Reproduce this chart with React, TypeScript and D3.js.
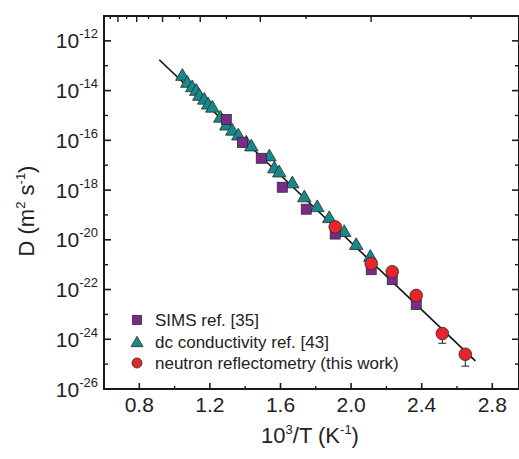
import React from "react";
import * as d3 from "d3";

// dc conductivity ref. [43]
const triX = [1.044, 1.072, 1.10, 1.123, 1.140, 1.168, 1.19, 1.214, 1.259, 1.293, 1.327, 1.361, 1.406, 1.435, 1.537, 1.565, 1.593, 1.667, 1.735, 1.808, 1.876, 1.961, 2.029, 2.109];
const triD = [4.0e-14, 2.1e-14, 1.4e-14, 1.0e-14, 6.3e-15, 4.4e-15, 2.8e-15, 2.1e-15, 8.3e-16, 4.0e-16, 2.5e-16, 1.6e-16, 8.3e-17, 5.8e-17, 2.3e-17, 7.6e-18, 5.2e-18, 1.9e-18, 5.2e-19, 2.1e-19, 7.6e-20, 2.1e-20, 6.3e-21, 2.1e-21];
// SIMS ref. [35]
const sqX = [1.293, 1.384, 1.491, 1.610, 1.746, 1.910, 2.114, 2.233, 2.369];
const sqD = [6.9e-16, 8.3e-17, 1.9e-17, 1.3e-18, 1.7e-19, 1.7e-20, 6.3e-22, 2.5e-22, 2.5e-23];
// neutron reflectometry (this work)
const circX = [1.910, 2.114, 2.233, 2.369, 2.517, 2.647];
const circD = [3.3e-20, 1.1e-21, 5.2e-22, 5.8e-23, 1.7e-24, 2.5e-25];
const circDLow: (number | null)[] = [null, null, null, null, 6.9e-25, 8.3e-26];
// Arrhenius fit
const fitX = [0.913, 2.704];
const fitD = [1.74e-13, 1.35e-25];

const xMajorTicks = [0.8, 1.2, 1.6, 2.0, 2.4, 2.8];
const xMinorTicks = [1.0, 1.4, 1.8, 2.2, 2.6];
const yMajorExp = [-26, -24, -22, -20, -18, -16, -14, -12];
const yMinorExp = [-25, -23, -21, -19, -17, -15, -13];
const topTempsC = [100, 200, 300, 400, 500, 600, 700, 800, 900, 1000, 1100, 1200, 1300];

const legendItems = [
  { label: "SIMS ref. [35]", shape: "square", color: "#7b2a8c" },
  { label: "dc conductivity ref. [43]", shape: "triangle", color: "#17898b" },
  { label: "neutron reflectometry (this work)", shape: "circle", color: "#e8242a" },
];

const W = 519, H = 459;
const L = 104, R = 519, T = 16, B = 389;
const FONT = "'Liberation Sans', Arial, sans-serif";

export default function App() {
  const x = d3.scaleLinear().domain([0.6, 0.6 + (R - L) / 176.5]).range([L, R]);
  const y = d3.scaleLog().domain([1e-26, 1e-11]).range([B, T]);
  const stroke = "#2a2a2a";
  const line = d3.line<number>().x((_, i) => x(fitX[i])).y((_, i) => y(fitD[i]));

  const sq = 10;
  const triPath = (cx: number, cy: number, s: number) => {
    const h = s * 0.87;
    return `M${cx},${cy - h * 0.6}L${cx + s / 2},${cy + h * 0.4}L${cx - s / 2},${cy + h * 0.4}Z`;
  };

  return (
    <svg width={W} height={H} style={{ position: "absolute", left: 0, top: 0, background: "#fff" }} fontFamily={FONT}>
      {/* fit line */}
      <path d={line(fitX) || ""} fill="none" stroke="#111" strokeWidth={1.6} />
      {/* triangles */}
      {triX.map((v, i) => (
        <path key={"t" + i} d={triPath(x(v), y(triD[i]), 13.5)} fill="#17898b" stroke={stroke} strokeWidth={0.8} />
      ))}
      {/* squares */}
      {sqX.map((v, i) => (
        <rect key={"s" + i} x={x(v) - sq / 2} y={y(sqD[i]) - sq / 2} width={sq} height={sq} fill="#7b2a8c" stroke={stroke} strokeWidth={0.8} />
      ))}
      {/* error bars */}
      {circX.map((v, i) => {
        const lo = circDLow[i];
        if (lo == null) return null;
        const cx = x(v);
        return (
          <g key={"e" + i} stroke="#222" strokeWidth={1}>
            <line x1={cx} x2={cx} y1={y(circD[i])} y2={y(lo)} />
            <line x1={cx - 4} x2={cx + 4} y1={y(lo)} y2={y(lo)} />
          </g>
        );
      })}
      {/* circles */}
      {circX.map((v, i) => (
        <circle key={"c" + i} cx={x(v)} cy={y(circD[i])} r={6.3} fill="#e8242a" stroke={stroke} strokeWidth={0.8} />
      ))}

      {/* frame */}
      <rect x={L} y={T} width={R - L} height={B - T} fill="none" stroke="#1a1a1a" strokeWidth={2} />

      {/* bottom ticks */}
      {xMajorTicks.map((t) => (
        <g key={"xm" + t}>
          <line x1={x(t)} x2={x(t)} y1={B} y2={B - 6} stroke="#1a1a1a" strokeWidth={1.6} />
          <text x={x(t)} y={412} textAnchor="middle" fontSize={21} fill="#222">{t.toFixed(1)}</text>
        </g>
      ))}
      {xMinorTicks.map((t) => (
        <line key={"xn" + t} x1={x(t)} x2={x(t)} y1={B} y2={B - 3} stroke="#1a1a1a" strokeWidth={1.4} />
      ))}
      {/* top ticks (temperature, °C) */}
      {topTempsC.map((c) => {
        const xx = x(1000 / (c + 273.15));
        const long = c % 200 === 0;
        return <line key={"tt" + c} x1={xx} x2={xx} y1={T} y2={T + (long ? 6 : 3)} stroke="#1a1a1a" strokeWidth={1.4} />;
      })}
      {/* left/right ticks */}
      {yMajorExp.map((e) => (
        <g key={"ym" + e}>
          <line x1={L} x2={L + 7} y1={y(10 ** e)} y2={y(10 ** e)} stroke="#1a1a1a" strokeWidth={1.6} />
          <line x1={R} x2={R - 7} y1={y(10 ** e)} y2={y(10 ** e)} stroke="#1a1a1a" strokeWidth={1.6} />
          <text x={98} y={y(10 ** e) + 7.5} textAnchor="end" fontSize={21} fill="#222">
            10<tspan fontSize={13} dy={-10}>{String(e)}</tspan>
          </text>
        </g>
      ))}
      {yMinorExp.map((e) => (
        <g key={"yn" + e}>
          <line x1={L} x2={L + 4} y1={y(10 ** e)} y2={y(10 ** e)} stroke="#1a1a1a" strokeWidth={1.4} />
          <line x1={R} x2={R - 4} y1={y(10 ** e)} y2={y(10 ** e)} stroke="#1a1a1a" strokeWidth={1.4} />
        </g>
      ))}

      {/* legend */}
      {legendItems.map((it, i) => {
        const cy = 320 + i * 21.5;
        const cx = 137;
        let mark;
        if (it.shape === "square") mark = <rect x={cx - 4.5} y={cy - 4.5} width={9} height={9} fill={it.color} stroke={stroke} strokeWidth={0.8} />;
        else if (it.shape === "triangle") mark = <path d={triPath(cx, cy + 1, 12)} fill={it.color} stroke={stroke} strokeWidth={0.8} />;
        else mark = <circle cx={cx} cy={cy} r={5} fill={it.color} stroke={stroke} strokeWidth={0.8} />;
        return (
          <g key={"lg" + i}>
            {mark}
            <text x={155} y={cy + 6} fontSize={17} fill="#222">{it.label}</text>
          </g>
        );
      })}

      {/* axis titles */}
      <text x={310} y={443} textAnchor="middle" fontSize={22} fill="#222">
        10<tspan fontSize={13} dy={-9}>3</tspan><tspan dy={9}>/T (K</tspan><tspan fontSize={13} dy={-9}>-1</tspan><tspan dy={9}>)</tspan>
      </text>
      <text transform="translate(34,211) rotate(-90)" textAnchor="middle" fontSize={22} fill="#222">
        D (m<tspan fontSize={13} dy={-9}>2</tspan><tspan dy={9}> s</tspan><tspan fontSize={13} dy={-9}>-1</tspan><tspan dy={9}>)</tspan>
      </text>
    </svg>
  );
}
